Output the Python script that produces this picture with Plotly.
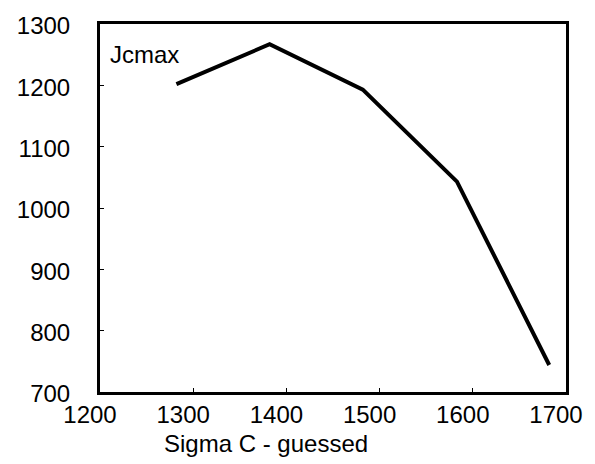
import plotly.graph_objects as go

sigma_c = [1282, 1382, 1482, 1583, 1682]
jcmax = [1202, 1267, 1193, 1043, 744]
x_ticks = [1200, 1300, 1400, 1500, 1600, 1700]
y_ticks = [700, 800, 900, 1000, 1100, 1200, 1300]

FONT = "Liberation Sans, Arial, sans-serif"

L, R, T, B = 100, 24, 22, 72
W, H = 595, 464
plot_w = W - L - R
plot_h = H - T - B

fig = go.Figure()
fig.add_trace(go.Scatter(x=sigma_c, y=jcmax, mode="lines",
                         line=dict(color="black", width=4), showlegend=False))

fig.update_layout(
    width=W, height=H,
    margin=dict(l=L, r=R, t=T, b=B),
    paper_bgcolor="white", plot_bgcolor="white",
    font=dict(family=FONT, size=24, color="black"),
    xaxis=dict(range=[1200, 1700], tickvals=x_ticks, showgrid=False, zeroline=False,
               showline=True, linecolor="black", linewidth=3, mirror=True,
               ticks="inside", ticklen=4, tickcolor="black", tickwidth=1,
               ticklabelshift=-10, ticklabelstandoff=-1),
    yaxis=dict(range=[700, 1300], tickvals=y_ticks, showgrid=False, zeroline=False,
               showline=True, linecolor="black", linewidth=3, mirror=True,
               ticks="inside", ticklen=4, tickcolor="black", tickwidth=1,
               ticklabelstandoff=22, ticklabelshift=2),
    annotations=[
        dict(text="Jcmax", x=(108 - L) / plot_w, y=(H - B - 53) / plot_h,
             xref="paper", yref="paper", xanchor="left", yanchor="middle",
             showarrow=False, font=dict(size=24)),
        dict(text="Sigma C - guessed", x=(268 - L) / plot_w, y=-(444 - (H - B)) / plot_h,
             xref="paper", yref="paper", xanchor="center", yanchor="middle",
             showarrow=False, font=dict(size=24)),
    ],
)

fig.write_html("out.html")
